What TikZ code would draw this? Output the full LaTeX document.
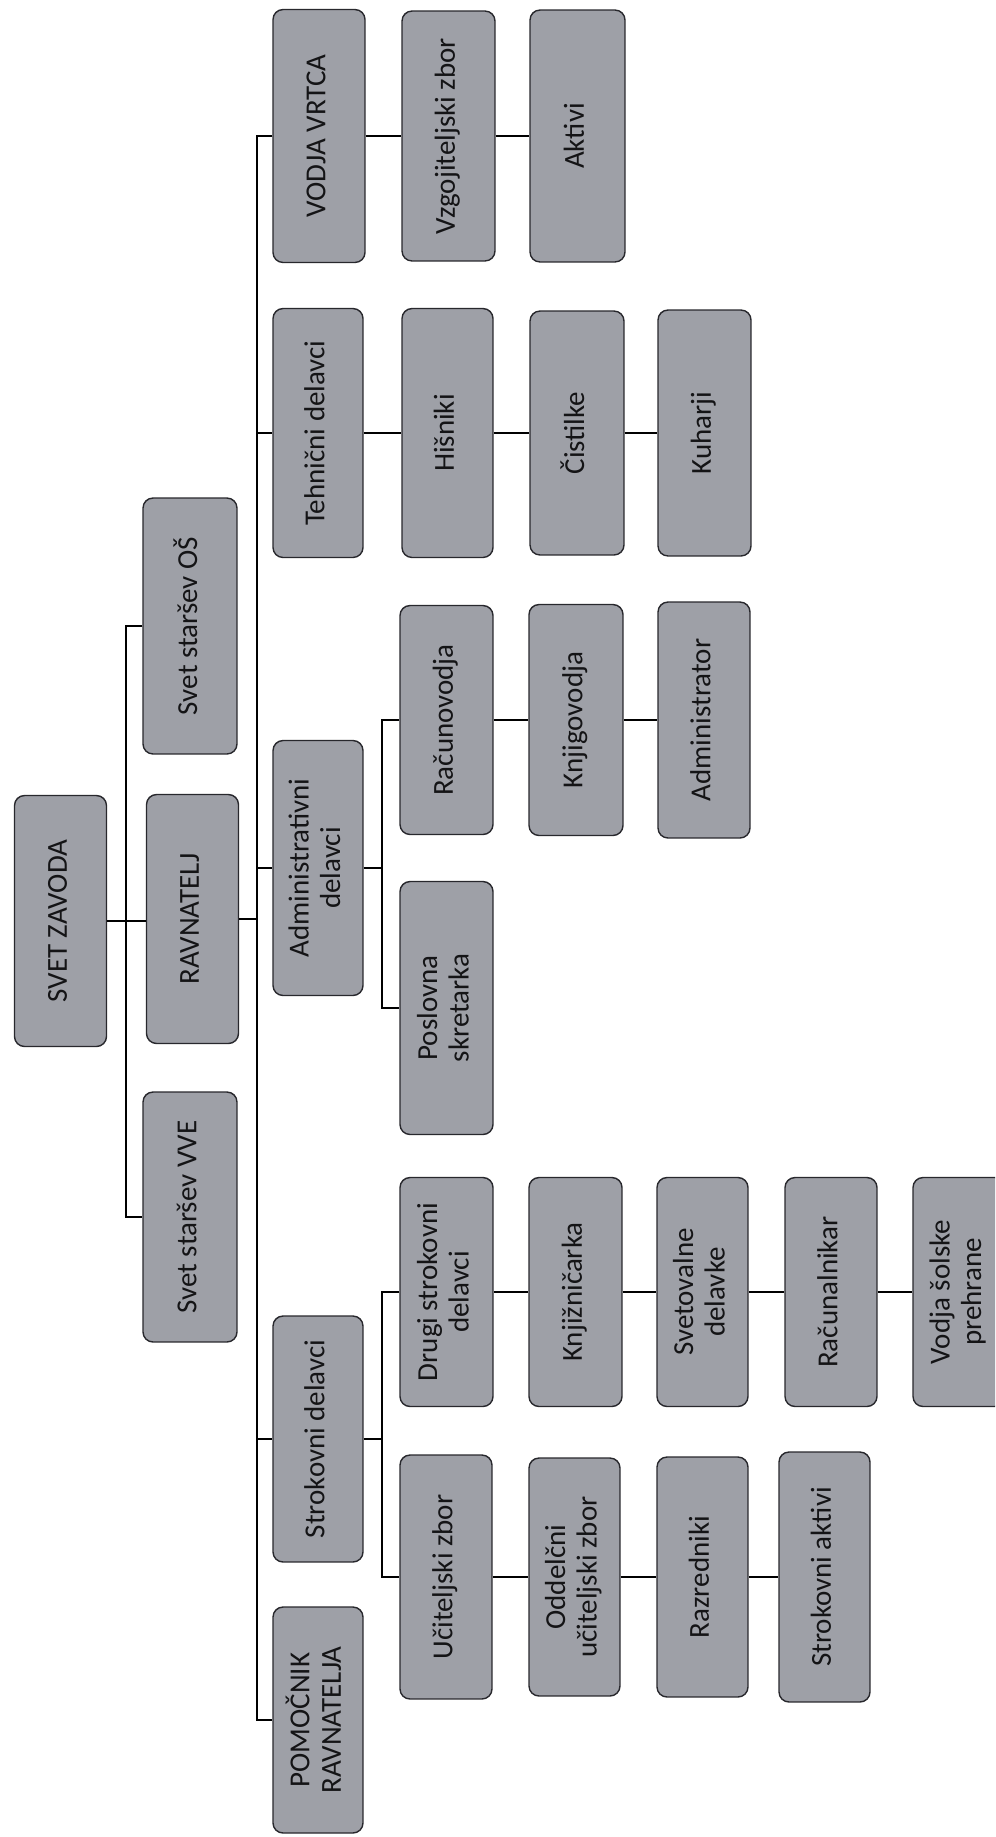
\documentclass[tikz,border=0pt]{standalone}
\usepackage{graphicx}
\usepackage{fontspec}
\setmainfont{Carlito}
\definecolor{boxgray}{RGB}{158,160,167}
\definecolor{boxline}{RGB}{40,40,45}
\definecolor{txt}{RGB}{20,20,22}
\newcommand\rtx[1]{\rotatebox{90}{\begin{tabular}{@{}c@{}}#1\end{tabular}}}
\begin{document}
\begin{tikzpicture}[x=0.02cm,y=-0.02cm,
  box/.style={draw=boxline, line width=0.8pt, fill=boxgray, rounded corners=0.2cm,
    minimum width=1.84cm, minimum height=5cm, inner sep=0pt, text=txt,
    font=\fontsize{16.5}{18}\selectfont},
  link/.style={draw=black, line width=1.1pt}]
\useasboundingbox (0,0) rectangle (995,1837);
\fill[white] (0,0) rectangle (995,1837);
\clip (0,0) rectangle (995,1837);

% level 0-1
\node[box, minimum height=5.02cm] (sz)  at (60.5,921) {\rtx{SVET ZAVODA}};
\node[box, minimum height=4.98cm] (rav) at (192.5,919) {\rtx{RAVNATELJ}};
\node[box, minimum height=5.12cm, minimum width=1.88cm] (sos) at (190,626) {\rtx{Svet staršev OŠ}};
\node[box, minimum height=5.0cm, minimum width=1.88cm] (svve) at (190,1217) {\rtx{Svet staršev VVE}};

% column 2
\node[box, minimum height=5.06cm] (vv)  at (319,136) {\rtx{VODJA VRTCA}};
\node[box, minimum height=4.98cm, minimum width=1.8cm] (teh) at (318,433) {\rtx{Tehnični delavci}};
\node[box, minimum height=5.1cm, minimum width=1.8cm] (adm) at (318,868) {\rtx{Administrativni\\delavci}};
\node[box, minimum height=4.92cm, minimum width=1.8cm] (str) at (318,1439) {\rtx{Strokovni delavci}};
\node[box, minimum height=4.52cm, minimum width=1.8cm] (pom) at (318,1720) {\rtx{POMOČNIK\\RAVNATELJA}};

% row VODJA VRTCA
\node[box, minimum height=5.0cm, minimum width=1.86cm] (vz) at (448.5,136) {\rtx{Vzgojiteljski zbor}};
\node[box, minimum height=5.04cm, minimum width=1.9cm] (ak) at (577.5,136) {\rtx{Aktivi}};

% row Tehnicni
\node[box, minimum height=4.98cm, minimum width=1.82cm] (his) at (447.5,433) {\rtx{Hišniki}};
\node[box, minimum height=4.88cm, minimum width=1.88cm] (cis) at (577,433) {\rtx{Čistilke}};
\node[box, minimum height=4.92cm, minimum width=1.86cm] (kuh) at (704.5,433) {\rtx{Kuharji}};

% admin branch
\node[box, minimum height=4.58cm, minimum width=1.86cm] (rac) at (446.5,720) {\rtx{Računovodja}};
\node[box, minimum height=4.62cm, minimum width=1.88cm] (knj) at (576,720) {\rtx{Knjigovodja}};
\node[box, minimum height=4.72cm, minimum width=1.84cm] (admr) at (704,720) {\rtx{Administrator}};
\node[box, minimum height=5.06cm, minimum width=1.86cm] (pos) at (446.5,1008) {\rtx{Poslovna\\skretarka}};

% strokovni branch
\node[box, minimum height=4.58cm, minimum width=1.86cm] (dru) at (446.5,1292) {\rtx{Drugi strokovni\\delavci}};
\node[box, minimum height=4.58cm, minimum width=1.86cm] (kn)  at (575.5,1292) {\rtx{Knjižničarka}};
\node[box, minimum height=4.58cm, minimum width=1.82cm] (svd) at (702.5,1292) {\rtx{Svetovalne\\delavke}};
\node[box, minimum height=4.58cm, minimum width=1.84cm] (rcn) at (831,1292) {\rtx{Računalnikar}};
\node[box, minimum height=4.58cm, minimum width=1.84cm] (vsp) at (959,1292) {\rtx{Vodja šolske\\prehrane}};

\node[box, minimum height=4.88cm, minimum width=1.84cm] (uz)  at (446,1577) {\rtx{Učiteljski zbor}};
\node[box, minimum height=4.76cm, minimum width=1.82cm] (odd) at (574.5,1577) {\rtx{Oddelčni\\učiteljski zbor}};
\node[box, minimum height=4.8cm, minimum width=1.82cm] (raz) at (702.5,1577) {\rtx{Razredniki}};
\node[box, minimum height=5.0cm, minimum width=1.82cm] (sak) at (824.5,1577) {\rtx{Strokovni aktivi}};

% buses
\coordinate (b1) at (126,921);
\coordinate (b2) at (257,919);
\coordinate (b3) at (382,868);
\coordinate (b4) at (382,1439);

\draw[link] (sz.east) -- (sz.east -| rav.west);
\draw[link] (sos.west) -| (b1) |- (svve.west);

\draw[link] (rav.east) -- (rav.east -| b2);
\draw[link] (vv.west) -| (b2) |- (pom.west);
\draw[link] (b2 |- teh.west) -- (teh.west);
\draw[link] (b2 |- adm.west) -- (adm.west);
\draw[link] (b2 |- str.west) -- (str.west);

\draw[link] (adm.east) -- (adm.east -| b3);
\draw[link] (rac.west) -| (b3) |- (pos.west);

\draw[link] (str.east) -- (str.east -| b4);
\draw[link] (dru.west) -| (b4) |- (uz.west);

% chains
\draw[link] (vv.east) -- (vz.west);
\draw[link] (vz.east) -- (ak.west);
\draw[link] (teh.east) -- (his.west);
\draw[link] (his.east) -- (cis.west);
\draw[link] (cis.east) -- (kuh.west);
\draw[link] (rac.east) -- (knj.west);
\draw[link] (knj.east) -- (admr.west);
\draw[link] (dru.east) -- (kn.west);
\draw[link] (kn.east) -- (svd.west);
\draw[link] (svd.east) -- (rcn.west);
\draw[link] (rcn.east) -- (vsp.west);
\draw[link] (uz.east) -- (odd.west);
\draw[link] (odd.east) -- (raz.west);
\draw[link] (raz.east) -- (sak.west);
\end{tikzpicture}
\end{document}
